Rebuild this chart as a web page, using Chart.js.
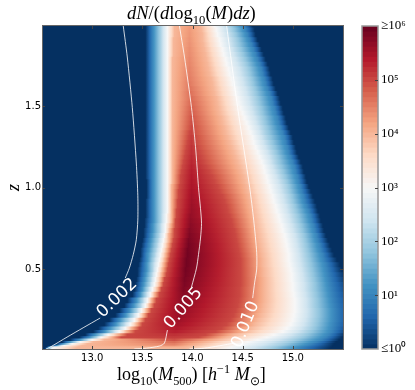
<!DOCTYPE html>
<html>
<head>
<meta charset="UTF-8">
<title>dN/(dlog10(M)dz)</title>
<script src="https://cdn.jsdelivr.net/npm/chart.js"></script>
<style>
    body { margin: 0; background: #fff; width: 415px; height: 390px; position: relative; overflow: hidden; }
    canvas { position: absolute; top: 0; }
    #mainChart { left: 0; }
    #barChart { left: 355px; }
    .label { position: absolute; font-family: 'Liberation Serif', serif; color: #000; white-space: nowrap; line-height: 1; }
    .label sub, .label sup { font-size: 68%; line-height: 0; }
    #title { left: 127px; top: 4px; font-size: 18.5px; }
    #xlabel { left: 117px; top: 365px; font-size: 18px; }
</style>
</head>
<body>
<canvas id="mainChart" width="355" height="390"></canvas>
<canvas id="barChart" width="60" height="390"></canvas>
<div class="label" id="title"><i>dN</i>/(<i>d</i>log<sub>10</sub>(<i>M</i>)<i>dz</i>)</div>
<div class="label" id="xlabel">log<sub>10</sub>(<i>M</i><sub>500</sub>) [<i>h</i><sup>−1</sup> <i>M</i><sub>⊙</sub>]</div>
<script>
// redshift of each heatmap row
const zRows = [1.99,1.96,1.93,1.90,1.87,1.84,1.81,1.78,1.75,1.72,1.69,1.66,1.63,1.60,1.57,1.54,1.51,1.48,1.45,1.42,1.39,1.36,1.33,1.30,1.27,1.24,1.21,1.18,1.15,1.12,1.09,1.06,1.03,1.00,0.97,0.94,0.91,0.88,0.85,0.82,0.79,0.76,0.73,0.70,0.67,0.64,0.61,0.58,0.55,0.52,0.49,0.46,0.43,0.40,0.37,0.34,
    0.30,0.27,0.24,0.21,0.18,0.155,0.13,0.11,0.09,0.075,0.06,0.045,0.035,0.025,0.015,0.01];

// log10(M) where each row reaches 10^n on the rising side
const rise0 = [13.53,13.53,13.53,13.53,13.53,13.53,13.53,13.53,13.53,13.53,13.53,13.53,13.53,13.53,13.53,13.53,13.53,13.53,13.53,13.53,13.53,13.53,13.53,13.53,13.53,13.53,13.53,13.53,13.53,13.53,13.53,13.53,13.54,13.54,13.54,13.54,13.53,13.53,13.53,13.53,13.52,13.52,13.51,13.51,13.50,13.49,13.48,13.48,13.47,13.46,13.45,13.45,13.44,13.43,13.42,13.40,
    13.35,13.32,13.27,13.23,13.17,13.12,13.06,13.01,12.93,12.87,12.78,12.70,12.65,12.60,12.55,12.53];
const rise1 = [13.60,13.60,13.60,13.60,13.60,13.60,13.60,13.60,13.60,13.60,13.60,13.60,13.60,13.60,13.60,13.60,13.60,13.60,13.60,13.60,13.60,13.60,13.60,13.60,13.60,13.60,13.60,13.60,13.60,13.60,13.60,13.60,13.60,13.60,13.60,13.60,13.60,13.60,13.60,13.60,13.60,13.59,13.59,13.58,13.57,13.56,13.55,13.54,13.54,13.53,13.53,13.52,13.51,13.50,13.49,13.47,
    13.43,13.40,13.36,13.32,13.26,13.22,13.16,13.11,13.01,12.96,12.86,12.76,12.70,12.64,12.57,12.55];
const rise2 = [13.68,13.68,13.68,13.68,13.68,13.68,13.68,13.68,13.68,13.68,13.68,13.68,13.68,13.68,13.68,13.68,13.68,13.68,13.68,13.68,13.68,13.68,13.68,13.68,13.68,13.68,13.68,13.68,13.68,13.68,13.68,13.68,13.68,13.68,13.68,13.68,13.68,13.68,13.68,13.68,13.68,13.67,13.67,13.66,13.65,13.64,13.63,13.62,13.61,13.60,13.60,13.59,13.58,13.57,13.55,13.53,
    13.50,13.48,13.44,13.40,13.35,13.31,13.26,13.20,13.10,13.04,12.94,12.83,12.76,12.68,12.59,12.58];
const rise3 = [13.75,13.75,13.75,13.75,13.75,13.75,13.75,13.75,13.75,13.75,13.75,13.75,13.75,13.75,13.75,13.75,13.75,13.75,13.75,13.75,13.75,13.75,13.75,13.75,13.75,13.75,13.75,13.75,13.75,13.75,13.75,13.75,13.75,13.75,13.75,13.75,13.75,13.75,13.75,13.74,13.74,13.73,13.73,13.72,13.71,13.70,13.69,13.68,13.67,13.66,13.65,13.64,13.63,13.62,13.60,13.58,
    13.55,13.53,13.49,13.46,13.42,13.38,13.33,13.27,13.16,13.09,13.00,12.88,12.80,12.72,12.62,12.60];
const rise4 = [13.82,13.82,13.82,13.81,13.81,13.81,13.81,13.80,13.80,13.80,13.80,13.80,13.80,13.80,13.80,13.80,13.80,13.80,13.80,13.80,13.80,13.80,13.80,13.80,13.80,13.80,13.80,13.80,13.80,13.80,13.80,13.80,13.80,13.79,13.79,13.79,13.79,13.79,13.79,13.79,13.79,13.78,13.77,13.76,13.76,13.75,13.74,13.73,13.72,13.71,13.70,13.69,13.68,13.67,13.65,13.62,
    13.59,13.57,13.54,13.51,13.47,13.44,13.39,13.34,13.25,13.19,13.12,13.01,12.95,12.90,12.86,12.84];
const rise5 = [null,null,null,null,null,null,null,null,null,null,null,null,null,null,null,null,null,null,null,null,null,null,13.97,13.96,13.95,13.94,13.93,13.92,13.91,13.90,13.89,13.88,13.88,13.87,13.86,13.86,13.85,13.85,13.84,13.84,13.83,13.83,13.82,13.82,13.81,13.80,13.79,13.78,13.77,13.76,13.75,13.74,13.72,13.71,13.69,13.67,
    13.64,13.62,13.59,13.56,13.53,13.50,13.47,13.43,13.35,13.29,null,null,null,null,null,null];

// ridge of each row
const peakMass = [13.97,13.97,13.97,13.97,13.97,13.97,13.97,13.97,13.97,13.97,13.97,13.97,13.97,13.98,13.98,13.99,13.99,13.99,13.99,13.99,13.99,13.99,13.99,13.99,13.99,13.99,13.99,13.99,13.99,13.99,13.99,13.99,13.99,13.99,13.99,13.99,13.99,13.99,13.99,13.98,13.98,13.98,13.97,13.97,13.96,13.96,13.95,13.95,13.94,13.94,13.93,13.93,13.92,13.92,13.91,13.91,
    13.90,13.89,13.88,13.87,13.86,13.85,13.84,13.83,13.82,13.82,13.82,13.82,13.82,13.82,13.82,13.82];
const peakLog = [4.28,4.3,4.32,4.35,4.37,4.4,4.42,4.45,4.47,4.5,4.52,4.55,4.58,4.62,4.66,4.7,4.75,4.8,4.85,4.9,4.95,5.0,5.05,5.1,5.14,5.18,5.21,5.25,5.29,5.33,5.37,5.4,5.43,5.46,5.49,5.52,5.55,5.58,5.61,5.64,5.68,5.72,5.76,5.8,5.84,5.87,5.89,5.9,5.9,5.9,5.89,5.87,5.85,5.82,5.79,5.75,
    5.7,5.67,5.63,5.6,5.55,5.5,5.42,5.35,5.2,5.1,4.95,4.7,4.55,4.4,4.1,4.0];

// log10(M) where each row drops back to 10^n
const fall5 = [null,null,null,null,null,null,null,null,null,null,null,null,null,null,null,null,null,null,null,null,null,null,14.00,14.02,14.03,14.05,14.07,14.09,14.11,14.14,14.17,14.20,14.22,14.25,14.27,14.30,14.32,14.34,14.35,14.37,14.39,14.40,14.42,14.43,14.44,14.45,14.46,14.47,14.48,14.48,14.48,14.48,14.48,14.48,14.47,14.47,
    14.46,14.45,14.43,14.41,14.38,14.34,14.29,14.23,14.13,14.06,null,null,null,null,null,null];
const fall4 = [14.08,14.09,14.10,14.10,14.11,14.12,14.13,14.14,14.15,14.16,14.17,14.19,14.20,14.21,14.22,14.24,14.25,14.26,14.27,14.29,14.30,14.32,14.33,14.35,14.37,14.39,14.41,14.43,14.45,14.47,14.49,14.51,14.52,14.54,14.55,14.57,14.58,14.59,14.60,14.61,14.62,14.63,14.64,14.65,14.66,14.67,14.68,14.69,14.70,14.70,14.71,14.71,14.72,14.72,14.72,14.72,
    14.72,14.71,14.70,14.68,14.65,14.62,14.57,14.52,14.41,14.34,14.25,14.14,14.07,14.02,13.94,13.91];
const fall3 = [14.22,14.24,14.25,14.27,14.28,14.30,14.31,14.33,14.34,14.36,14.37,14.39,14.40,14.42,14.43,14.45,14.46,14.48,14.50,14.52,14.54,14.56,14.58,14.60,14.61,14.63,14.65,14.67,14.69,14.71,14.72,14.74,14.75,14.77,14.78,14.80,14.81,14.83,14.84,14.86,14.87,14.89,14.90,14.92,14.93,14.94,14.95,14.96,14.96,14.97,14.98,14.99,14.99,15.00,15.00,15.01,
    15.02,15.02,15.02,15.01,15.00,14.98,14.94,14.90,14.81,14.74,14.65,14.55,14.50,14.45,14.39,14.37];
const fall2 = [14.37,14.39,14.41,14.43,14.44,14.46,14.48,14.50,14.52,14.54,14.55,14.57,14.58,14.60,14.61,14.63,14.64,14.66,14.67,14.69,14.70,14.72,14.73,14.75,14.77,14.79,14.81,14.83,14.84,14.86,14.88,14.90,14.92,14.94,14.95,14.97,14.98,15.00,15.01,15.03,15.04,15.06,15.07,15.09,15.10,15.11,15.12,15.13,15.14,15.15,15.16,15.17,15.18,15.19,15.19,15.20,
    15.21,15.21,15.22,15.22,15.21,15.20,15.18,15.15,15.10,15.06,15.00,14.94,14.89,14.85,14.79,14.77];
const fall1 = [14.51,14.53,14.55,14.57,14.59,14.61,14.63,14.65,14.67,14.69,14.70,14.72,14.73,14.75,14.77,14.79,14.80,14.82,14.83,14.85,14.86,14.88,14.90,14.92,14.93,14.95,14.96,14.98,15.00,15.02,15.03,15.05,15.06,15.08,15.09,15.11,15.12,15.14,15.16,15.18,15.19,15.21,15.22,15.24,15.25,15.27,15.28,15.30,15.31,15.33,15.34,15.35,15.36,15.37,15.38,15.39,
    15.40,15.41,15.42,15.42,15.42,15.41,15.40,15.39,15.36,15.33,15.29,15.24,15.19,15.15,15.09,15.07];
const fall0 = [14.60,14.62,14.63,14.65,14.67,14.69,14.71,14.73,14.75,14.77,14.78,14.80,14.81,14.83,14.85,14.87,14.88,14.90,14.91,14.93,14.94,14.96,14.98,15.00,15.01,15.03,15.04,15.06,15.08,15.10,15.11,15.13,15.14,15.16,15.18,15.20,15.22,15.24,15.25,15.27,15.28,15.30,15.31,15.33,15.35,15.37,15.39,15.41,15.44,15.47,15.49,15.52,15.54,15.57,15.58,15.60,
    15.62,15.63,15.63,15.63,15.63,15.62,15.59,15.56,15.52,15.49,15.46,15.43,15.41,15.40,15.39,15.37];

// contour lines, null where the label sits
const contour002Mass = [13.31,13.35,13.40,13.44,13.455,13.455,13.44,13.41,13.37,13.33,null,13.08,12.91,12.75,12.58,12.54];
const contour002Z = [1.99,1.80,1.49,1.15,0.95,0.80,0.68,0.59,0.505,0.445,null,0.20,0.14,0.083,0.021,0.01];
const contour005Mass = [13.87,13.92,13.99,14.03,14.06,14.08,14.09,14.08,14.06,14.04,13.99,null,13.75,13.72,13.67,13.54,13.42];
const contour005Z = [1.99,1.80,1.49,1.25,1.00,0.87,0.78,0.69,0.59,0.506,0.39,null,0.126,0.046,0.028,0.015,0.01];
const contour010Mass = [14.34,14.45,14.57,14.61,14.64,14.64,14.62,14.60,null,14.42,14.12,13.97];
const contour010Z = [1.99,1.49,1.00,0.80,0.60,0.50,0.42,0.322,null,0.046,0.015,0.01];
const contourLabels = ['0.002','0.005','0.010'];
const contourLabelMass = [13.25,13.91,14.53];
const contourLabelZ = [0.322,0.26,0.16];
const contourLabelAngle = [-44,-49,-68];

const xTicks = [13.0,13.5,14.0,14.5,15.0];
const yTicks = [0.5,1.0,1.5];
const barTicks = [0,1,2,3,4,5,6];
const barTickLabels = ['≤10⁰','10¹','10²','10³','10⁴','10⁵','≥10⁶'];

// RdBu reversed
const cmapColors = ['#053061','#2166ac','#4393c3','#92c5de','#d1e5f0','#f7f7f7','#fddbc7','#f4a582','#d6604d','#b2182b','#67001f'];

function hexToRgb(h) {
    return [parseInt(h.slice(1,3),16), parseInt(h.slice(3,5),16), parseInt(h.slice(5,7),16)];
}
function cmap(logN) {
    const t = Math.min(Math.max(logN / 6, 0), 1) * 10;
    const i = Math.min(Math.floor(t), 9);
    const a = hexToRgb(cmapColors[i]), b = hexToRgb(cmapColors[i+1]);
    const f = t - i;
    return 'rgb(' + a.map((v, k) => Math.round(v + (b[k] - v) * f)).join(',') + ')';
}

// colour stops of one row, placed with the x scale
function rowGradient(ctx) {
    const chart = ctx.chart;
    const xs = chart.scales.x;
    if (!xs || !chart.chartArea) return '#053061';
    const i = ctx.dataIndex;
    const x0 = xs.getPixelForValue(12.4), x1 = xs.getPixelForValue(15.8);
    const anchors = [
        [rise0[i],0],[rise1[i],1],[rise2[i],2],[rise3[i],3],[rise4[i],4],[rise5[i],5],
        [peakMass[i],peakLog[i]],
        [fall5[i],5],[fall4[i],4],[fall3[i],3],[fall2[i],2],[fall1[i],1],[fall0[i],0]
    ].filter(a => a[0] !== null);
    const g = chart.ctx.createLinearGradient(x0, 0, x1, 0);
    const pos = m => Math.min(Math.max((xs.getPixelForValue(m) - x0) / (x1 - x0), 0), 1);
    g.addColorStop(0, cmap(0));
    for (let k = 0; k < anchors.length - 1; k++) {
        const [ma, va] = anchors[k], [mb, vb] = anchors[k+1];
        for (let s = 0; s < 5; s++) {
            const f = s / 5;
            g.addColorStop(pos(ma + (mb - ma) * f), cmap(va + (vb - va) * f));
        }
    }
    const last = anchors[anchors.length-1];
    g.addColorStop(pos(last[0]), cmap(last[1]));
    g.addColorStop(1, cmap(0));
    return g;
}

function zip(xs, ys) {
    return xs.map((x, i) => ({x: x, y: ys[i]}));
}

function contourDataset(xs, ys) {
    return {
        type: 'scatter',
        data: zip(xs, ys),
        showLine: true,
        spanGaps: false,
        borderColor: '#ffffff',
        borderWidth: 0.8,
        tension: 0.25,
        pointRadius: 0,
        order: 1
    };
}

// frame and inward ticks, the axes themselves have none
const framePlugin = {
    id: 'frame',
    afterDatasetsDraw(chart) {
        const {ctx, chartArea: a, scales} = chart;
        ctx.save();
        ctx.strokeStyle = '#444';
        ctx.lineWidth = 1;
        ctx.beginPath();
        xTicks.forEach(v => {
            const p = Math.round(scales.x.getPixelForValue(v)) + 0.5;
            ctx.moveTo(p, a.top); ctx.lineTo(p, a.top + 3);
            ctx.moveTo(p, a.bottom); ctx.lineTo(p, a.bottom - 3);
        });
        yTicks.forEach(v => {
            const p = Math.round(scales.y.getPixelForValue(v)) + 0.5;
            ctx.moveTo(a.left, p); ctx.lineTo(a.left + 3, p);
            ctx.moveTo(a.right, p); ctx.lineTo(a.right - 3, p);
        });
        ctx.stroke();
        ctx.strokeStyle = '#666';
        ctx.strokeRect(a.left + 0.5, a.top - 0.5, a.right - a.left, a.bottom - a.top + 1);
        ctx.restore();
    }
};

const contourLabelPlugin = {
    id: 'contourLabels',
    afterDatasetsDraw(chart) {
        const {ctx, scales} = chart;
        ctx.save();
        ctx.fillStyle = '#fff';
        ctx.font = "17px 'DejaVu Sans'";
        ctx.textAlign = 'center';
        ctx.textBaseline = 'middle';
        contourLabels.forEach((t, i) => {
            ctx.save();
            ctx.translate(scales.x.getPixelForValue(contourLabelMass[i]), scales.y.getPixelForValue(contourLabelZ[i]));
            ctx.rotate(contourLabelAngle[i] * Math.PI / 180);
            ctx.fillText(t, 0, 0);
            ctx.restore();
        });
        ctx.restore();
    }
};

new Chart(document.getElementById('mainChart'), {
    data: {
        datasets: [
            {
                type: 'bar',
                indexAxis: 'y',
                data: zRows.map(z => ({y: z, x: [12.5, 15.5]})),
                backgroundColor: rowGradient,
                barThickness: 'flex',
                barPercentage: 1,
                categoryPercentage: 1,
                inflateAmount: 1,
                borderWidth: 0,
                order: 2
            },
            contourDataset(contour002Mass, contour002Z),
            contourDataset(contour005Mass, contour005Z),
            contourDataset(contour010Mass, contour010Z)
        ]
    },
    options: {
        responsive: false,
        animation: false,
        layout: { padding: { top: 26, right: 12, left: 0, bottom: 0 } },
        plugins: { legend: { display: false }, tooltip: { enabled: false } },
        scales: {
            x: {
                type: 'linear',
                position: 'bottom',
                min: 12.5,
                max: 15.5,
                grid: { display: false, drawTicks: false },
                border: { display: false },
                afterBuildTicks: s => { s.ticks = xTicks.map(v => ({value: v})); },
                afterFit: s => { s.height = 41; },
                ticks: {
                    color: '#000',
                    padding: 3,
                    font: { family: "'DejaVu Sans'", size: 10 },
                    maxRotation: 0,
                    autoSkip: false,
                    callback: v => v.toFixed(1)
                }
            },
            y: {
                type: 'linear',
                position: 'left',
                offset: false,
                min: 0.01,
                max: 1.99,
                grid: { display: false, drawTicks: false, offset: false },
                border: { display: false },
                afterBuildTicks: s => { s.ticks = yTicks.map(v => ({value: v})); },
                afterFit: s => { s.width = 42; },
                title: {
                    display: true,
                    text: 'z',
                    color: '#000',
                    font: { family: "'Liberation Serif'", size: 18, style: 'italic' },
                    padding: { top: 3, bottom: 0 }
                },
                ticks: {
                    color: '#000',
                    padding: 1,
                    font: { family: "'DejaVu Sans'", size: 10 },
                    autoSkip: false,
                    callback: v => v.toFixed(1)
                }
            }
        }
    },
    plugins: [contourLabelPlugin, framePlugin]
});

// colour bar, 64 bands like the heatmap's colormap
const barBands = 64;
const barBandCentres = [...Array(barBands).keys()].map(i => (i + 0.5) * 6 / barBands);

const barFramePlugin = {
    id: 'barFrame',
    afterDatasetsDraw(chart) {
        const {ctx, chartArea: a, scales} = chart;
        ctx.save();
        ctx.strokeStyle = '#999';
        ctx.lineWidth = 1.5;
        ctx.strokeRect(a.left, a.top, a.right - a.left, a.bottom - a.top);
        ctx.strokeStyle = '#444';
        ctx.lineWidth = 1;
        ctx.beginPath();
        barTicks.slice(1, -1).forEach(v => {
            const p = Math.round(scales.y.getPixelForValue(v)) + 0.5;
            ctx.moveTo(a.right, p); ctx.lineTo(a.right - 3, p);
        });
        ctx.stroke();
        ctx.restore();
    }
};

new Chart(document.getElementById('barChart'), {
    data: {
        datasets: [{
            type: 'bar',
            indexAxis: 'y',
            data: barBandCentres.map(v => ({y: v, x: [0, 1]})),
            backgroundColor: barBandCentres.map(cmap),
            barThickness: 'flex',
            barPercentage: 1,
            categoryPercentage: 1,
            inflateAmount: 0.5,
            borderWidth: 0
        }]
    },
    options: {
        responsive: false,
        animation: false,
        layout: { padding: { top: 26, left: 7, right: 0, bottom: 0 } },
        plugins: { legend: { display: false }, tooltip: { enabled: false } },
        scales: {
            x: {
                type: 'linear',
                min: 0,
                max: 1,
                display: true,
                grid: { display: false, drawTicks: false },
                border: { display: false },
                ticks: { display: false },
                afterFit: s => { s.height = 41; }
            },
            y: {
                type: 'linear',
                position: 'right',
                offset: false,
                min: 0,
                max: 6,
                grid: { display: false, drawTicks: false, offset: false },
                border: { display: false },
                afterBuildTicks: s => { s.ticks = barTicks.map(v => ({value: v})); },
                afterFit: s => { s.width = 37; },
                ticks: {
                    color: '#000',
                    padding: 3,
                    font: { family: "'Liberation Serif'", size: 13 },
                    autoSkip: false,
                    callback: v => barTickLabels[v]
                }
            }
        }
    },
    plugins: [barFramePlugin]
});
</script>
</body>
</html>
